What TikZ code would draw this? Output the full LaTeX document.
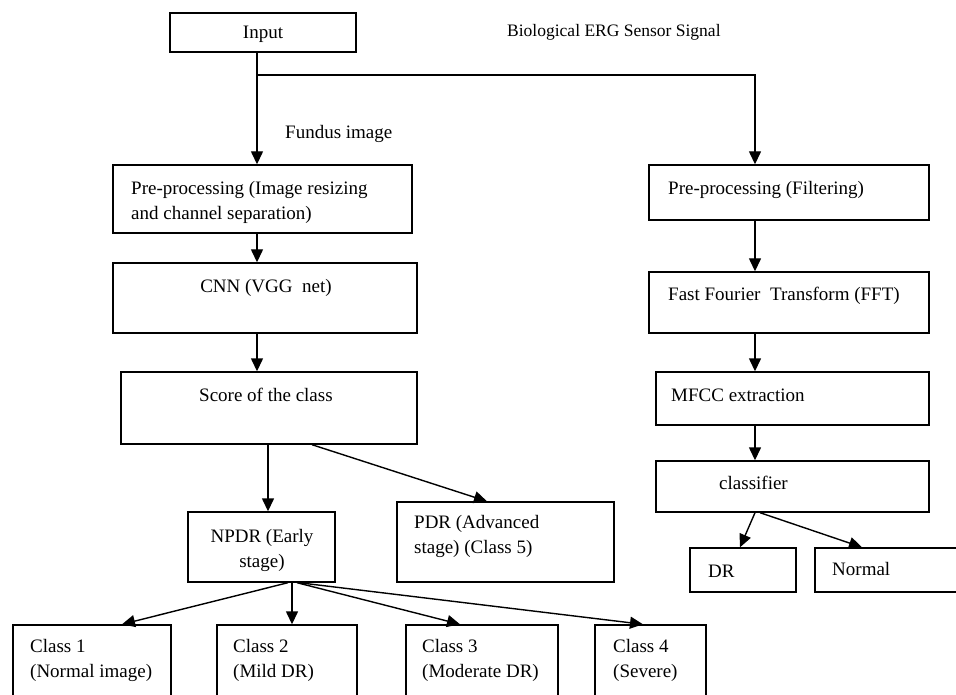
\documentclass[tikz,border=0pt]{standalone}
\usepackage{fontspec}
\setmainfont{Liberation Serif}
\usetikzlibrary{arrows.meta,fit}
\begin{document}
\begin{tikzpicture}[x=1pt,y=-1pt,
  box/.style={draw, line width=1.4pt, inner sep=0pt, rectangle},
  txt/.style={inner sep=0pt, font=\fontsize{19}{25}\selectfont, align=left},
  arr/.style={line width=1.4pt, -{Triangle[length=13pt,width=12pt]}},
  ln/.style={line width=1.4pt}]
\useasboundingbox (0,0) rectangle (956,695);
\clip (0,0) rectangle (956,695);
% boxes
\node[box, fit={(170,13) (356,52)}] (input) {};
\node[box, fit={(113,165) (412,233)}] (pre1) {};
\node[box, fit={(649,165) (929,220)}] (pre2) {};
\node[box, fit={(113,263) (417,333)}] (cnn) {};
\node[box, fit={(121,372) (417,444)}] (score) {};
\node[box, fit={(649,272) (929,333)}] (fft) {};
\node[box, fit={(656,372) (929,425)}] (mfcc) {};
\node[box, fit={(656,461) (929,512)}] (clf) {};
\node[box, fit={(188,512) (335,582)}] (npdr) {};
\node[box, fit={(397,502) (614,582)}] (pdr) {};
\node[box, fit={(690,548) (796,592)}] (dr) {};
\node[box, fit={(815,548) (975,592)}] (normal) {};
\node[box, fit={(13,625) (171,715)}] (c1) {};
\node[box, fit={(217,625) (357,715)}] (c2) {};
\node[box, fit={(406,625) (558,715)}] (c3) {};
\node[box, fit={(595,625) (706,715)}] (c4) {};
% texts (multi-line nodes: base anchor = last baseline)
\node[txt, anchor=base] (tinput) at (263,39) {Input};
\node[txt, anchor=base west, font=\fontsize{17.5}{22}\selectfont] (tbio) at (507,37) {Biological ERG Sensor Signal};
\node[txt, anchor=base west] (tfund) at (285,139) {Fundus image};
\node[txt, anchor=base west] (tpre1) at (131,220) {Pre-processing (Image resizing\\and channel separation)};
\node[txt, anchor=base west] (tpre2) at (668,195) {Pre-processing (Filtering)};
\node[txt, anchor=base] (tcnn) at (266,292) {CNN (VGG\ \ net)};
\node[txt, anchor=base west] (tscore) at (199,401) {Score of the class};
\node[txt, anchor=base west] (tfft) at (668,300) {Fast Fourier\ \ Transform (FFT)};
\node[txt, anchor=base west] (tmfcc) at (671,401) {MFCC extraction};
\node[txt, anchor=base west] (tclf) at (719,489) {classifier};
\node[txt, anchor=base, align=center] (tnpdr) at (262,567) {NPDR (Early\\stage)};
\node[txt, anchor=base west] (tpdr) at (414,553) {PDR (Advanced\\stage) (Class 5)};
\node[txt, anchor=base west] (tdr) at (708,577) {DR};
\node[txt, anchor=base west] (tnormal) at (832,575) {Normal};
\node[txt, anchor=base west] (tc1) at (30,677) {Class 1\\(Normal image)};
\node[txt, anchor=base west] (tc2) at (233,677) {Class 2\\(Mild DR)};
\node[txt, anchor=base west] (tc3) at (422,677) {Class 3\\(Moderate DR)};
\node[txt, anchor=base west] (tc4) at (613,677) {Class 4\\(Severe)};
% connectors
\coordinate (split) at (257,75);
\coordinate (rb) at (755,75);
\draw[arr] (input.south -| split) -- (pre1.north -| split);
\draw[arr] (split) -- (rb) -- (pre2.north -| rb);
\draw[arr] (pre1.south -| split) -- (cnn.north -| split);
\draw[arr] (cnn.south -| split) -- (score.north -| split);
\draw[arr] (score.south -| 268,0) -- (npdr.north -| 268,0);
\draw[arr] (score.south -| 312,0) -- (pdr.north -| 487,0);
\draw[arr] (npdr.south -| 288,0) -- (c1.north -| 122,0);
\draw[arr] (npdr.south -| 292,0) -- (c2.north -| 292,0);
\draw[arr] (npdr.south -| 297,0) -- (c3.north -| 460,0);
\draw[arr] (npdr.south -| 299,0) -- (c4.north -| 643,0);
\draw[arr] (pre2.south -| rb) -- (fft.north -| rb);
\draw[arr] (fft.south -| rb) -- (mfcc.north -| rb);
\draw[arr] (mfcc.south -| rb) -- (clf.north -| rb);
\draw[arr] (clf.south -| 755,0) -- (dr.north -| 740,0);
\draw[arr] (clf.south -| 760,0) -- (normal.north -| 862,0);
\end{tikzpicture}
\end{document}
